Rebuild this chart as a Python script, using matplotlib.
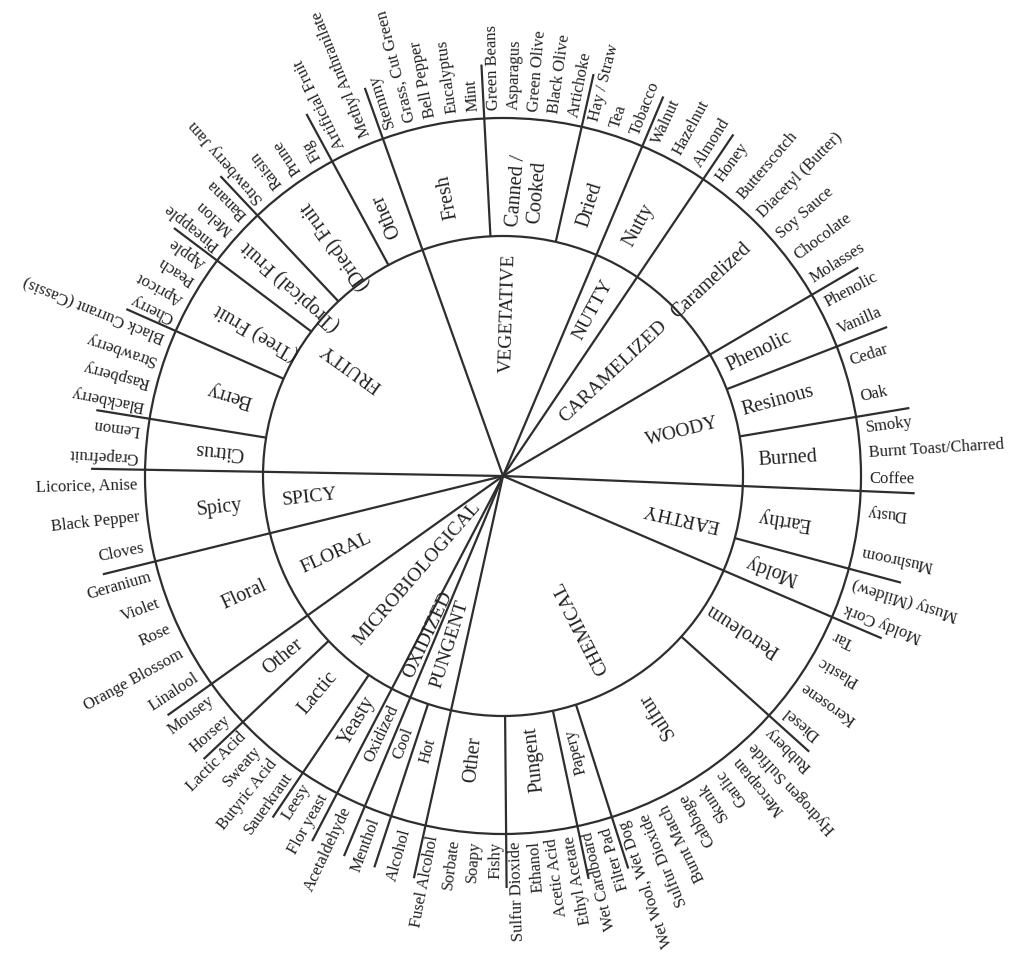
import numpy as np
import matplotlib
matplotlib.use('Agg')
from matplotlib import pyplot as plt
from matplotlib.patches import Circle

# first tier of the wheel, clockwise from the top
tier1 = ['VEGETATIVE', 'NUTTY', 'CARAMELIZED', 'WOODY', 'EARTHY', 'CHEMICAL',
         'PUNGENT', 'OXIDIZED', 'MICROBIOLOGICAL', 'FLORAL', 'SPICY', 'FRUITY']
# how many second tier terms belong to each first tier term
tier1_count = [3, 1, 1, 3, 2, 5, 2, 1, 3, 1, 1, 6]

# second tier
tier2 = ['Fresh', 'Canned /\nCooked', 'Dried', 'Nutty', 'Caramelized',
         'Phenolic', 'Resinous', 'Burned', 'Earthy', 'Moldy',
         'Petroleum', 'Sulfur', 'Papery', 'Pungent', 'Other',
         'Hot', 'Cool', 'Oxidized', 'Yeasty', 'Lactic', 'Other',
         'Floral', 'Spicy', 'Citrus', 'Berry', '(Tree) Fruit',
         '(Tropical) Fruit', '(Dried) Fruit', 'Other']
# wedge size of each second tier term (degrees)
tier2_deg = [16.6, 15.7, 10.2, 11.1, 25.6,
             9.2, 11.7, 11.9, 12.6, 8.2,
             18.8, 30.3, 5.7, 11.5, 13.0,
             5.7, 4.5, 4.9, 6.4, 12.6, 7.9,
             21.7, 14.8, 8.2, 14.7, 13.1,
             9.7, 14.8, 8.9]

# third tier, listed clockwise inside each second tier wedge
tier3 = [
    ['Stemmy', 'Grass, Cut Green', 'Bell Pepper', 'Eucalyptus', 'Mint'],
    ['Green Beans', 'Asparagus', 'Green Olive', 'Black Olive', 'Artichoke'],
    ['Hay / Straw', 'Tea', 'Tobacco'],
    ['Walnut', 'Hazelnut', 'Almond'],
    ['Honey', 'Butterscotch', 'Diacetyl (Butter)', 'Soy Sauce', 'Chocolate', 'Molasses'],
    ['Phenolic', 'Vanilla'],
    ['Cedar', 'Oak'],
    ['Smoky', 'Burnt Toast/Charred', 'Coffee'],
    ['Dusty', 'Mushroom'],
    ['Musty (Mildew)', 'Moldy Cork'],
    ['Tar', 'Plastic', 'Kerosene', 'Diesel'],
    ['Rubbery', 'Hydrogen Sulfide', 'Mercaptan', 'Garlic', 'Skunk', 'Cabbage',
     'Burnt Match', 'Sulfur Dioxide', 'Wet Wool, Wet Dog'],
    ['Filter Pad', 'Wet Cardboard'],
    ['Ethyl Acetate', 'Acetic Acid', 'Ethanol', 'Sulfur Dioxide'],
    ['Fishy', 'Soapy', 'Sorbate', 'Fusel Alcohol'],
    ['Alcohol'],
    ['Menthol'],
    ['Acetaldehyde'],
    ['Flor yeast', 'Leesy'],
    ['Sauerkraut', 'Butyric Acid', 'Sweaty', 'Lactic Acid'],
    ['Horsey', 'Mousey'],
    ['Linalool', 'Orange Blossom', 'Rose', 'Violet', 'Geranium'],
    ['Cloves', 'Black Pepper', 'Licorice, Anise'],
    ['Grapefruit', 'Lemon'],
    ['Blackberry', 'Raspberry', 'Strawberry', 'Black Currant (Cassis)'],
    ['Cherry', 'Apricot', 'Peach', 'Apple'],
    ['Pineapple', 'Melon', 'Banana'],
    ['Strawberry Jam', 'Raisin', 'Prune', 'Fig'],
    ['Artificial Fruit', 'Methyl Anthranilate'],
]

start = 109.6          # angle of the FRUITY / VEGETATIVE line
W, H = 1009, 967
cx, cy = 503, 476
r_in, r_out, r_ext = 240, 358, 412
ink = '#2e2e2e'
txt = '#222222'
font = 'Liberation Serif'


def norm(a):
    return (a + 180.0) % 360.0 - 180.0


def polar(r, a):
    t = np.deg2rad(a)
    return r * np.cos(t), r * np.sin(t)


def outward(a):
    # text on the upper half (and just below 3 o'clock) reads away from the centre
    return a >= -3


def rot(a):
    return a if outward(a) else a + 180


fig = plt.figure(figsize=(W / 100, H / 100), dpi=100)
ax = fig.add_axes([0, 0, 1, 1])
ax.set_xlim(-cx, W - cx)
ax.set_ylim(-(H - cy), cy)
ax.axis('off')

# faint dotted paper
gx, gy = np.meshgrid(np.arange(-cx + 3, W - cx, 6.7), np.arange(-(H - cy) + 3, cy, 6.7))
ax.scatter(gx.ravel(), gy.ravel(), s=0.35, marker='s', c='#d6d6d6', lw=0, zorder=0)

ax.add_patch(Circle((0, 0), r_in, fill=False, ec=ink, lw=1.6, zorder=2))
ax.add_patch(Circle((0, 0), r_out, fill=False, ec=ink, lw=1.6, zorder=2))

edges = start - np.concatenate([[0], np.cumsum(tier2_deg)])
main_idx = np.concatenate([[0], np.cumsum(tier1_count)[:-1]])

# boundary lines
for i in range(len(tier2)):
    a = edges[i]
    r0 = 0 if i in main_idx else r_in
    x0, y0 = polar(r0, a)
    x1, y1 = polar(r_ext, a)
    ax.plot([x0, x1], [y0, y1], color=ink, lw=1.6, solid_capstyle='butt', zorder=2)

# first tier labels
for k, name in enumerate(tier1):
    i0 = main_idx[k]
    a = norm((edges[i0] + edges[i0 + tier1_count[k]]) / 2)
    x, y = polar(222, a)
    ha = 'right' if outward(a) else 'left'
    ax.text(x, y, name, rotation=rot(a), rotation_mode='anchor', ha=ha, va='center',
            fontsize=14, family=font, color=txt, zorder=3)

# second and third tier labels
for i, name in enumerate(tier2):
    a = norm((edges[i] + edges[i + 1]) / 2)
    x, y = polar(285, a)
    fs = 12 if tier2_deg[i] < 6 else 14.5
    ax.text(x, y, name, rotation=rot(a), rotation_mode='anchor', ha='center', va='center',
            fontsize=fs, family=font, color=txt, linespacing=1.1, zorder=3)
    items = tier3[i]
    step = tier2_deg[i] / len(items)
    for j, item in enumerate(items):
        b = norm(edges[i] - (j + 0.5) * step)
        x, y = polar(366, b)
        ha = 'left' if outward(b) else 'right'
        ax.text(x, y, item, rotation=rot(b), rotation_mode='anchor', ha=ha, va='center',
                fontsize=12, family=font, color=txt, zorder=3)

fig.savefig('out.png', dpi=100, facecolor='white')
